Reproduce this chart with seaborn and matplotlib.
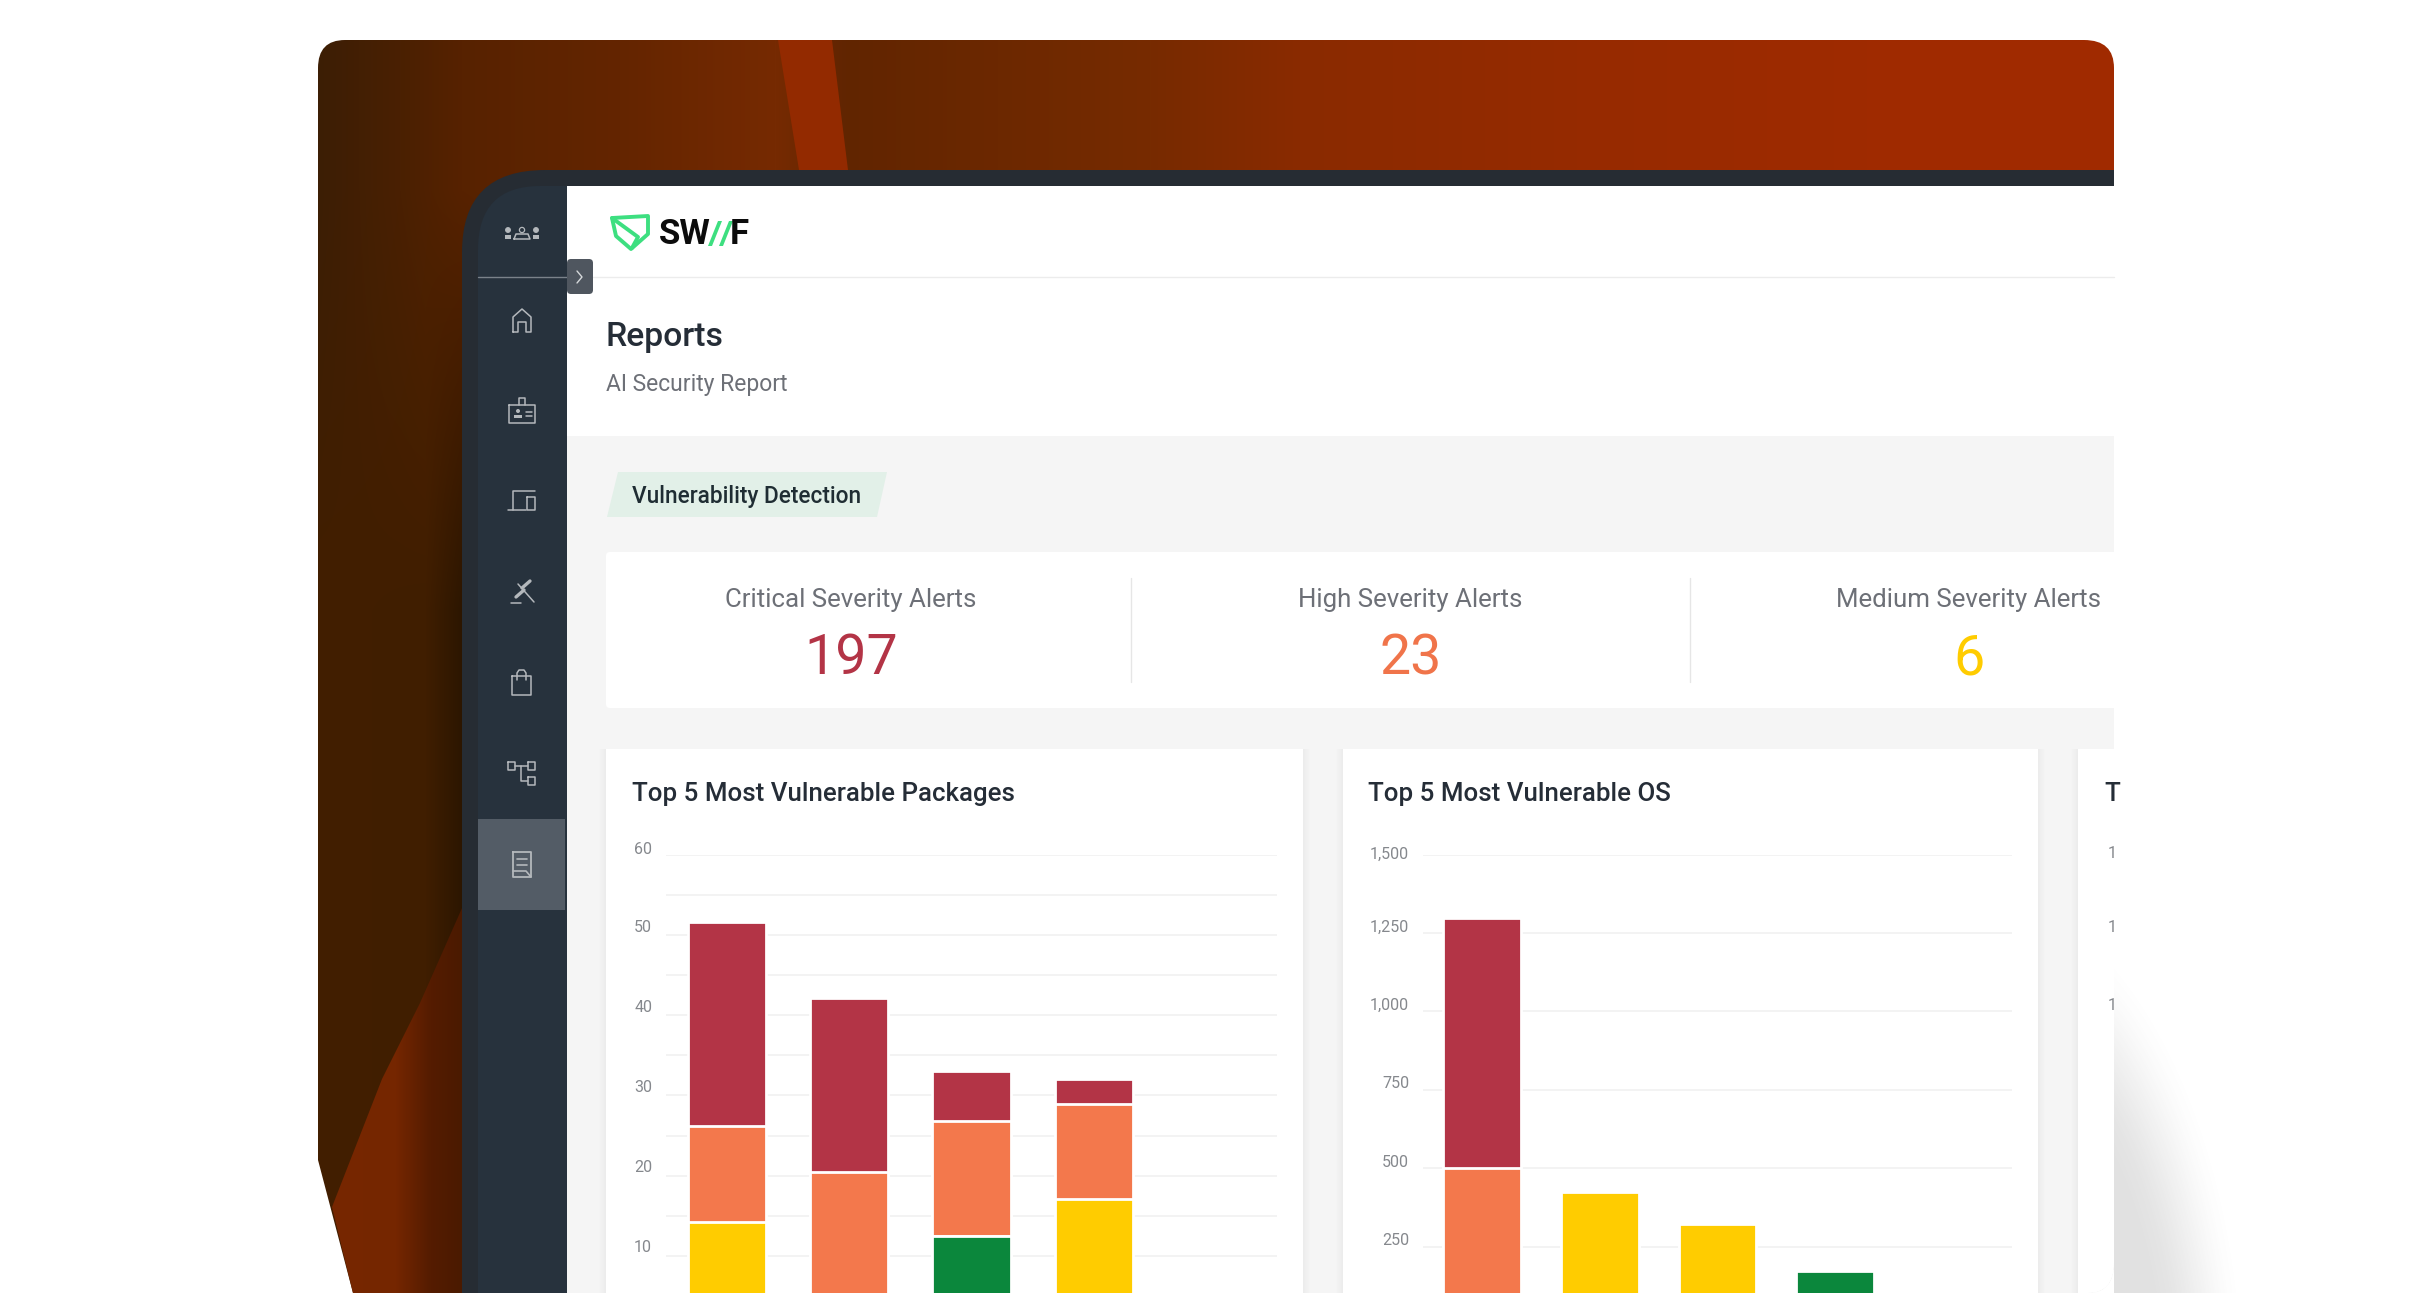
import matplotlib
matplotlib.use("Agg")
import matplotlib.pyplot as plt
import numpy as np
import pandas as pd
import seaborn as sns
from matplotlib.colors import to_rgb
from matplotlib.patches import FancyBboxPatch, PathPatch, Polygon, Rectangle, Circle
from matplotlib.path import Path
from matplotlib.transforms import ScaledTranslation

# chart values (the bottoms of the bars are cut off)
severities = ["Critical", "High", "Medium", "Low"]
severity_colors = ["#b33446", "#f3784c", "#ffcc00", "#0b873c"]

packages = ["Package 1", "Package 2", "Package 3", "Package 4", "Package 5"]
pkg_low = [0, 0, 12.5, 0, 0]
pkg_medium = [14.2, 0, 0, 17.1, 0]
pkg_high = [12.0, 20.4, 14.3, 11.8, 0]
pkg_critical = [25.4, 21.7, 6.3, 3.2, 0]
pkg_ticks = [10, 20, 30, 40, 50, 60]
pkg_minor_ticks = [15, 25, 35, 45, 55]

systems = ["OS 1", "OS 2", "OS 3", "OS 4", "OS 5"]
os_low = [0, 0, 0, 173, 0]
os_medium = [0, 426, 322, 0, 0]
os_high = [502, 0, 0, 0, 0]
os_critical = [796, 0, 0, 0, 0]
os_ticks = [250, 500, 750, 1000, 1250, 1500]

alert_labels = ["Critical Severity Alerts", "High Severity Alerts", "Medium Severity Alerts"]
alert_values = ["197", "23", "6"]
alert_colors = ["#b33446", "#f0744a", "#ffcc00"]

W, H = 2430, 1293
TEXT_DARK = "#252d37"
TEXT_GREY = "#6d7077"
ICON = "#b4b8bc"

sns.set_theme(style="white")
plt.rcParams["font.family"] = ["Roboto", "DejaVu Sans"]

fig = plt.figure(figsize=(W / 100, H / 100), dpi=100, facecolor="white")
bg = fig.add_axes([0, 0, 1, 1])
bg.set_xlim(0, W)
bg.set_ylim(H, 0)
bg.axis("off")


def rounded_shape():
    # outer shape of the screenshot: round corners, cut bottom left corner
    verts = [
        (345, 40), (2084, 40), (2114, 40), (2114, 68), (2114, 1263), (2114, 1293), (2088, 1293),
        (353, 1293), (318, 1160), (318, 68), (318, 40), (345, 40), (345, 40),
    ]
    codes = [
        Path.MOVETO, Path.LINETO, Path.CURVE3, Path.CURVE3, Path.LINETO, Path.CURVE3, Path.CURVE3,
        Path.LINETO, Path.LINETO, Path.LINETO, Path.CURVE3, Path.CURVE3, Path.CLOSEPOLY,
    ]
    return Path(verts, codes)


def stops_to_row(xs, stops):
    pos = [s[0] for s in stops]
    cols = np.array([to_rgb(s[1]) for s in stops])
    return np.stack([np.interp(xs, pos, cols[:, i]) for i in range(3)], axis=-1)


# soft shadow to the right of the screenshot
yy, xx = np.mgrid[0:H, 0:W]
dist = np.sqrt(((xx - 1960) / 290.0) ** 2 + ((yy - 1400) / 530.0) ** 2)
shade = np.clip((1 - dist) / 0.32, 0, 1)
shade = shade * shade * (3 - 2 * shade)
shadow = np.ones((H, W, 4))
shadow[..., :3] = 0.35
shadow[..., 3] = shade * 0.18
bg.imshow(shadow, extent=(0, W, H, 0), aspect="auto", zorder=0, interpolation="bilinear")

# orange background of the screenshot
xs = np.arange(W)
top_row = stops_to_row(xs, [(318, "#3c1e05"), (400, "#4a2002"), (462, "#572200"), (620, "#642500"), (775, "#762a02"),
                            (845, "#612501"), (1150, "#772b00"), (1300, "#8a2a00"),
                            (1600, "#972a00"), (1900, "#a02a00"), (2114, "#a02a00")])
low_row = stops_to_row(xs, [(318, "#421f00"), (425, "#401e00"), (462, "#2c1600"), (2114, "#2c1600")])
t = np.clip((np.arange(H) - 190) / 420.0, 0, 1)[:, None, None]
back = top_row[None, :, :] * (1 - t) + low_row[None, :, :] * t
back_im = bg.imshow(back, extent=(0, W, H, 0), aspect="auto", zorder=1)
mock = PathPatch(rounded_shape(), transform=bg.transData, fc="none", ec="none")
bg.add_patch(mock)
back_im.set_clip_path(mock)

# lighter streaks in the background
bg.add_patch(Polygon([(778, 40), (832, 40), (848, 170), (799, 170)], fc="#932a00", ec="none", zorder=2))
streak_row = stops_to_row(xs, [(330, "#772600"), (395, "#752600"), (430, "#551c00"), (462, "#4a1a00")])
streak = bg.imshow(streak_row[None, :, :], extent=(0, W, H, 0), aspect="auto", zorder=2)
streak_patch = Polygon([(462, 908), (420, 1003), (382, 1079), (332, 1207), (353, 1293), (462, 1293)],
                       transform=bg.transData, fc="none", ec="none")
bg.add_patch(streak_patch)
streak.set_clip_path(streak_patch)

# tablet frame and sidebar
frame = Path(
    [(2114, 170), (545, 170), (462, 170), (462, 252), (462, 1293), (2114, 1293), (2114, 170)],
    [Path.MOVETO, Path.LINETO, Path.CURVE3, Path.CURVE3, Path.LINETO, Path.LINETO, Path.CLOSEPOLY],
)
bg.add_patch(PathPatch(frame, fc="#262c33", ec="none", zorder=3))
side = Path(
    [(567, 186), (540, 186), (478, 186), (478, 250), (478, 1293), (567, 1293), (567, 186)],
    [Path.MOVETO, Path.LINETO, Path.CURVE3, Path.CURVE3, Path.LINETO, Path.LINETO, Path.CLOSEPOLY],
)
bg.add_patch(PathPatch(side, fc="#27323d", ec="none", zorder=3))
bg.add_patch(Rectangle((478, 819), 87, 91, fc="#535c66", ec="none", zorder=4))
bg.plot([478, 567], [277, 277], color="#7a828a", lw=1, zorder=4)

# page panels
panel = Rectangle((567, 186), 1547, 1107, fc="white", ec="none", zorder=3)
bg.add_patch(panel)
grey = Rectangle((567, 436), 1547, 857, fc="#f5f5f5", ec="none", zorder=3)
bg.add_patch(grey)
grey.set_clip_path(mock)
bg.plot([593, 2114], [277, 277], color="#ececec", lw=1, zorder=4)
bg.add_patch(FancyBboxPatch((567, 259), 26, 35, boxstyle="round,pad=0,rounding_size=4",
                            fc="#4f565f", ec="none", zorder=5))
bg.plot([577, 582, 577], [271, 277, 283], color="#d5d8da", lw=1, zorder=6)

# logo
green = "#3ddf80"
bg.add_patch(Polygon([(612, 218), (648, 216), (648, 234), (631, 249), (616, 236)],
                     fc="none", ec=green, lw=2.8, joinstyle="round", zorder=5))
bg.plot([612, 638, 632], [218, 237, 248], color=green, lw=2.8, zorder=5)
bg.text(659, 235, "SW", fontsize=25, fontweight="bold", color="#0c0c0c", va="center", ha="left", zorder=5)
for dx in (0, 11):
    bg.add_patch(Polygon([(708 + dx, 246), (712 + dx, 246), (722 + dx, 221), (718 + dx, 221)],
                         fc=green, ec="none", zorder=5))
bg.text(730, 235, "F", fontsize=25, fontweight="bold", color="#0c0c0c", va="center", ha="left", zorder=5)

# page titles
bg.text(606, 337, "Reports", fontsize=24.3, fontweight="medium", color=TEXT_DARK, va="center", zorder=5)
bg.text(606, 384, "AI Security Report", fontsize=16.5, color=TEXT_GREY, va="center", zorder=5)
bg.add_patch(Polygon([(618, 472), (887, 472), (877, 517), (607, 517)], fc="#e2f0e8", ec="none", zorder=5))
bg.text(632, 496, "Vulnerability Detection", fontsize=16.3, fontweight="medium", color="#1f2d33",
        va="center", zorder=6)

# alert cards
bg.add_patch(FancyBboxPatch((606, 552), 1600, 156, boxstyle="round,pad=0,rounding_size=4",
                            fc="white", ec="none", zorder=4))
for lx in (1131, 1690):
    bg.plot([lx, lx], [578, 682], color="#e6e6e6", lw=1, zorder=5)
for cx, label, value, col in zip((851, 1410.5, 1969), alert_labels, alert_values, alert_colors):
    bg.text(cx, 599.5, label, fontsize=18.6, color=TEXT_GREY, ha="center", va="center", zorder=6)
    bg.text(cx, 659, value, fontsize=40, fontweight="normal", color=col, ha="center", va="center", zorder=6)


def card(x0, x1):
    # white chart card with a small shadow
    for grow in range(1, 10):
        bg.add_patch(Rectangle((x0 - grow * 0.8, 749), x1 - x0 + 2 * grow * 0.8, 600,
                               fc="black", ec="none", alpha=0.004, zorder=4))
    card_patch = Rectangle((x0, 749), x1 - x0, 600, fc="white", ec="none", zorder=4)
    bg.add_patch(card_patch)
    card_patch.set_clip_path(mock)


card(606, 1303)
card(1343, 2038)
third = Rectangle((2078, 749), 60, 600, fc="white", ec="none", zorder=4)
bg.add_patch(third)
third.set_clip_path(mock)
for grow in range(1, 10):
    sh = Rectangle((2078 - grow * 0.8, 749), 60, 600, fc="black", ec="none", alpha=0.004, zorder=3.9)
    bg.add_patch(sh)
    sh.set_clip_path(mock)

bg.text(632, 794, "Top 5 Most Vulnerable Packages", fontsize=18.6, fontweight="medium", color=TEXT_DARK,
        va="center", zorder=6)
bg.text(1368, 794, "Top 5 Most Vulnerable OS", fontsize=18.6, fontweight="medium", color=TEXT_DARK,
        va="center", zorder=6)
bg.text(2104, 794, "T", fontsize=18.6, fontweight="medium", color=TEXT_DARK, va="center", zorder=6)
for ty in (853, 927, 1005):
    bg.text(2108, ty, "1", fontsize=11.5, color="#85888d", va="center", zorder=6)


# sidebar icons
def icon(xs, ys, lw=1.1):
    bg.plot(xs, ys, color=ICON, lw=lw, zorder=6, solid_capstyle="round", solid_joinstyle="round")


for px, r in ((508, 2.3), (522, 2.6), (536, 2.3)):
    bg.add_patch(Circle((px, 230), r, fc=ICON if px != 522 else "none", ec=ICON, lw=0.9, zorder=6))
bg.add_patch(Rectangle((505, 235), 6, 4, fc=ICON, ec="none", zorder=6))
bg.add_patch(Rectangle((533, 235), 6, 4, fc=ICON, ec="none", zorder=6))
icon([514, 516, 528, 530, 514], [239, 234, 234, 239, 239])

icon([513, 513, 522, 531, 531, 526, 526, 518, 518, 513], [332, 317, 309, 317, 332, 332, 322, 322, 332, 332])

icon([509, 535, 535, 509, 509], [405, 405, 423, 423, 405])
icon([519, 519, 525, 525], [405, 398, 398, 405])
bg.add_patch(Circle((518, 411), 2, fc=ICON, ec="none", zorder=6))
bg.add_patch(Rectangle((514, 415), 8, 2.5, fc=ICON, ec="none", zorder=6))
icon([526, 532], [412, 412])
icon([526, 532], [416, 416])

icon([535, 513, 513], [491, 491, 510])
icon([508, 526], [510, 510])
icon([527, 535, 535, 527, 527], [497, 497, 510, 510, 497])

icon([511, 521], [603, 603])
icon([518, 534], [584, 602])
icon([516, 524], [597, 590], lw=2.4)
icon([522, 530], [588, 581], lw=2.4)

icon([512, 531, 531, 512, 512], [676, 676, 695, 695, 676])
icon([517, 517, 519, 524, 526, 526], [680, 673, 670, 670, 673, 680])

icon([508, 515, 515, 508, 508], [762, 762, 770, 770, 762])
icon([528, 535, 535, 528, 528], [762, 762, 770, 770, 762])
icon([528, 535, 535, 528, 528], [777, 777, 785, 785, 777])
icon([515, 528], [766, 766])
icon([521, 521, 528], [766, 781, 781])

icon([513, 531, 531, 527, 513, 513], [852, 852, 877, 877, 877, 852], lw=1.3)
icon([517, 527], [859, 859], lw=1.2)
icon([517, 527], [865, 865], lw=1.2)
icon([513, 526, 531], [871, 871, 877], lw=1.2)


def stacked_bars(rect, cats, low, medium, high, critical, ylim, ticks, bar_width, label_shift, fmt, minor=()):
    x0, y0, x1, y1 = rect
    ax = fig.add_axes([x0 / W, 1 - y1 / H, (x1 - x0) / W, (y1 - y0) / H], zorder=10)
    ax.patch.set_alpha(0)
    frame_df = pd.DataFrame({"cat": cats, "Low": low, "Medium": medium, "High": high, "Critical": critical})
    # seaborn has no stack option: draw running totals, tallest first
    totals = frame_df[["Low", "Medium", "High", "Critical"]].cumsum(axis=1)
    totals["cat"] = frame_df["cat"]
    for sev, col in zip(severities, severity_colors):
        sns.barplot(data=totals, x="cat", y=sev, order=cats, color=col, saturation=1, width=bar_width,
                    edgecolor="white", linewidth=2, ax=ax, zorder=3)
    ax.set_xlim(-0.5, len(cats) - 0.5)
    ax.set_ylim(*ylim)
    ax.set_xlabel("")
    ax.set_ylabel("")
    ax.set_xticks([])
    ax.set_yticks(ticks)
    ax.set_yticklabels([fmt.format(v) for v in ticks], fontsize=11.5, color="#85888d")
    ax.set_yticks(list(minor), minor=True)
    ax.grid(axis="y", which="both", color="#f2f2f2", lw=1.3, zorder=0)
    ax.set_axisbelow(True)
    ax.tick_params(axis="y", which="both", length=0, pad=10)
    sns.despine(ax=ax, left=True, bottom=True)
    for lab, shift in zip(ax.get_yticklabels(), label_shift):
        lab.set_transform(lab.get_transform() + ScaledTranslation(0, shift / 100, fig.dpi_scale_trans))
    return ax


stacked_bars((666, 855, 1277, 1293), packages, pkg_low, pkg_medium, pkg_high, pkg_critical,
             (5.36, 60), pkg_ticks, 0.64, [9.5, 9.5, 9.5, 9.5, 9.5, 6.5], "{:d}", minor=pkg_minor_ticks)
stacked_bars((1423, 854.5, 2012, 1293), systems, os_low, os_medium, os_high, os_critical,
             (103.5, 1500), os_ticks, 0.66, [7.5, 7.5, 7.5, 7.5, 7.5, 1.5], "{:,d}")

fig.savefig("out.png", dpi=100, facecolor="white")
